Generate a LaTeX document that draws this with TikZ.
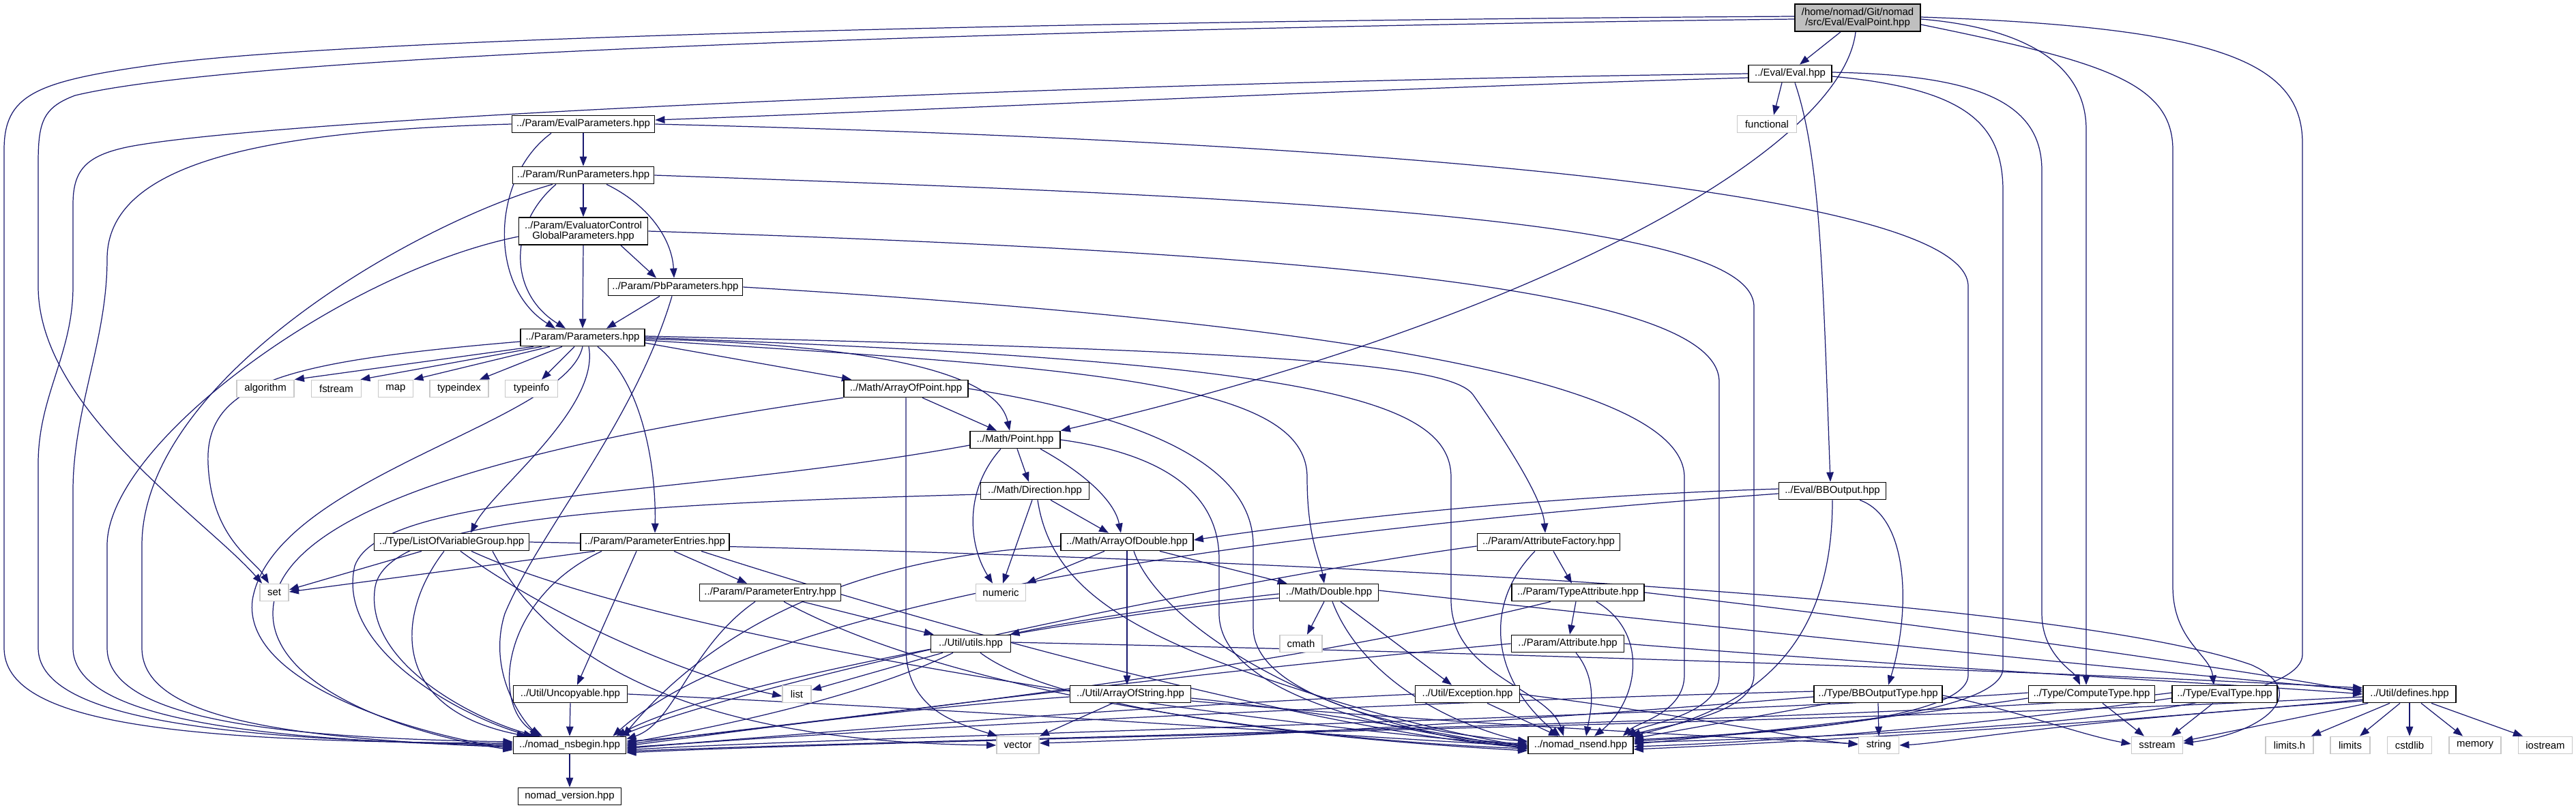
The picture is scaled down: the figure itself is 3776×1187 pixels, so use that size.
\documentclass[tikz,border=0pt]{standalone}
\usepackage{fontspec}
\setmainfont{Liberation Sans}
\usetikzlibrary{arrows.meta,calc}
\pgfdeclarelayer{edgelayer}
\pgfsetlayers{edgelayer,main}
\definecolor{ecol}{RGB}{25,25,112}
\definecolor{gfill}{RGB}{191,191,191}
\definecolor{gline}{RGB}{200,200,200}
\newcommand{\nodefnt}{\fontsize{8.5}{8.5}\selectfont}
\tikzset{
  nbox/.style={draw=black, line width=1pt, fill=white, minimum height=0.5cm, inner sep=0pt, font=\nodefnt, align=center},
  sysbox/.style={nbox, draw=gline},
  edg/.style={draw=ecol, line width=0.7pt, -{Triangle[length=8pt,width=6pt]}}
}
\begin{document}
\begin{tikzpicture}[x=0.02cm,y=-0.02cm]
\useasboundingbox (0,0) rectangle (3776,1187);

% ---------- nodes ----------
\node[nbox, fill=gfill, minimum width=3.68cm, minimum height=0.8cm] (EP) at (2723,26) {/home/nomad/Git/nomad\\/src/Eval/EvalPoint.hpp};
\node[nbox, minimum width=2.44cm] (Ev) at (2624,108) {../Eval/Eval.hpp};
\node[sysbox, minimum width=1.74cm] (fun) at (2590,182) {functional};
\node[nbox, minimum width=4.18cm] (EPar) at (855,182) {../Param/EvalParameters.hpp};
\node[nbox, minimum width=4.14cm] (RPar) at (855,257) {../Param/RunParameters.hpp};
\node[nbox, minimum width=3.78cm, minimum height=0.8cm] (ECG) at (855,339) {../Param/EvaluatorControl\\GlobalParameters.hpp};
\node[nbox, minimum width=3.94cm] (PbP) at (990,421) {../Param/PbParameters.hpp};
\node[nbox, minimum width=3.64cm] (Par) at (854,495) {../Param/Parameters.hpp};
\node[sysbox, minimum width=1.68cm] (alg) at (389,570) {algorithm};
\node[sysbox, minimum width=1.46cm] (fst) at (493,570) {fstream};
\node[sysbox, minimum width=1.02cm] (map) at (580,570) {map};
\node[sysbox, minimum width=1.72cm] (tix) at (673,570) {typeindex};
\node[sysbox, minimum width=1.54cm] (tinf) at (779,570) {typeinfo};
\node[nbox, minimum width=3.64cm] (AoP) at (1328,570) {../Math/ArrayOfPoint.hpp};
\node[nbox, minimum width=2.64cm] (Pt) at (1488,645) {../Math/Point.hpp};
\node[nbox, minimum width=3.18cm] (Dir) at (1517,720) {../Math/Direction.hpp};
\node[nbox, minimum width=3.14cm] (BBO) at (2686,720) {../Eval/BBOutput.hpp};
\node[nbox, minimum width=3.88cm] (AoD) at (1652,795) {../Math/ArrayOfDouble.hpp};
\node[nbox, minimum width=4.54cm] (LVG) at (662,795) {../Type/ListOfVariableGroup.hpp};
\node[nbox, minimum width=4.36cm] (PEs) at (960,795) {../Param/ParameterEntries.hpp};
\node[nbox, minimum width=4.18cm] (AF) at (2270,795) {../Param/AttributeFactory.hpp};
\node[nbox, minimum width=4.14cm] (PE) at (1129,869) {../Param/ParameterEntry.hpp};
\node[sysbox, minimum width=1.46cm] (num) at (1467,869) {numeric};
\node[nbox, minimum width=2.90cm] (Dbl) at (1948,869) {../Math/Double.hpp};
\node[nbox, minimum width=3.88cm] (TA) at (2313,869) {../Param/TypeAttribute.hpp};
\node[sysbox, minimum width=0.84cm] (set) at (402,869) {set};
\node[nbox, minimum width=2.34cm] (uti) at (1423,944) {../Util/utils.hpp};
\node[sysbox, minimum width=1.24cm] (cm) at (1907,944) {cmath};
\node[nbox, minimum width=3.30cm] (Att) at (2298,944) {../Param/Attribute.hpp};
\node[nbox, minimum width=3.34cm] (Unc) at (836,1018) {../Util/Uncopyable.hpp};
\node[sysbox, minimum width=0.84cm] (lst) at (1168,1018) {list};
\node[nbox, minimum width=3.54cm] (AoS) at (1657,1018) {../Util/ArrayOfString.hpp};
\node[nbox, minimum width=3.06cm] (Exc) at (2151,1018) {../Util/Exception.hpp};
\node[nbox, minimum width=3.76cm] (BBT) at (2753,1018) {../Type/BBOutputType.hpp};
\node[nbox, minimum width=3.70cm] (CT) at (3066,1018) {../Type/ComputeType.hpp};
\node[nbox, minimum width=3.08cm] (ET) at (3261,1018) {../Type/EvalType.hpp};
\node[nbox, minimum width=2.72cm] (def) at (3532,1018) {../Util/defines.hpp};
\node[nbox, minimum width=3.30cm] (nsb) at (835,1093) {../nomad\_nsbegin.hpp};
\node[sysbox, minimum width=1.24cm] (vec) at (1492,1093) {vector};
\node[nbox, minimum width=3.08cm] (nse) at (2317,1093) {../nomad\_nsend.hpp};
\node[sysbox, minimum width=1.18cm] (str) at (2754,1093) {string};
\node[sysbox, minimum width=1.50cm] (sst) at (3162,1093) {sstream};
\node[sysbox, minimum width=1.40cm] (lh) at (3356,1093) {limits.h};
\node[sysbox, minimum width=1.16cm] (lim) at (3445,1093) {limits};
\node[sysbox, minimum width=1.30cm] (csl) at (3532,1093) {cstdlib};
\node[sysbox, minimum width=1.52cm] (mem) at (3628,1093) {memory};
\node[sysbox, minimum width=1.58cm] (ios) at (3731,1093) {iostream};
\node[nbox, minimum width=3.02cm] (ver) at (835,1168) {nomad\_version.hpp};

\begin{pgfonlayer}{edgelayer}
\fill[white] (0,0) rectangle (3776,1187);
% ---------- edges ----------
% EvalPoint
\draw[edg] ($(EP.south)+(-25,0)$) -- ($(Ev.north)+(14,0)$);
\draw[edg] ($(EP.south)+(-3,0)$) .. controls (2700,220) and (2250,470) .. (Pt.north east);
\draw[edg] ($(EP.west)+(0,2)$) .. controls (1800,38) and (400,70) .. (110,140) .. controls (62,158) and (56,180) .. (56,240) -- (56,420) .. controls (56,600) and (300,760) .. ($(set.north west)+(4,0)$);
\draw[edg] ($(EP.west)+(0,-2)$) .. controls (1600,30) and (500,55) .. (220,96) .. controls (50,120) and (6,140) .. (6,220) -- (6,950) .. controls (6,1060) and (250,1088) .. ($(nsb.west)+(0,-3)$);
\draw[edg] ($(EP.east)+(0,2)$) .. controls (2960,40) and (3058,90) .. (3058,190) -- ($(CT.north)+(-8,0)$);
\draw[edg] ($(EP.east)+(0,10)$) .. controls (3080,90) and (3185,120) .. (3185,220) -- (3185,860) .. controls (3185,940) and (3240,960) .. ($(ET.north)+(-16,0)$);
\draw[edg] ($(EP.east)+(0,-1)$) .. controls (3250,40) and (3375,90) .. (3375,210) -- (3375,960) .. controls (3375,1060) and (2700,1080) .. ($(nse.east)+(0,-4)$);
% Eval
\draw[edg] ($(Ev.west)+(0,6)$) .. controls (2000,130) and (1400,160) .. ($(EPar.east)+(0,-6)$);
\draw[edg] ($(Ev.south)+(-12,0)$) -- ($(fun.north)+(10,0)$);
\draw[edg] ($(Ev.south)+(7,0)$) .. controls (2668,230) and (2672,400) .. ($(BBO.north)+(-3,0)$);
\draw[edg] (Ev.west) .. controls (1500,122) and (400,175) .. (190,215) .. controls (125,228) and (107,250) .. (107,300) -- (107,420) .. controls (107,520) and (56,580) .. (56,680) -- (56,950) .. controls (56,1050) and (300,1085) .. ($(nsb.west)+(0,-1)$);
\draw[edg] ($(Ev.east)+(0,-2)$) .. controls (2900,110) and (2993,150) .. (2993,250) -- (2993,900) .. controls (2993,960) and (3040,985) .. ($(CT.north)+(-17,0)$);
\draw[edg] ($(Ev.east)+(0,4)$) .. controls (2880,130) and (2936,180) .. (2936,280) -- (2936,980) .. controls (2936,1050) and (2600,1075) .. ($(nse.east)+(0,-8)$);
% EvalParameters
\draw[edg] (EPar.south) -- (RPar.north);
\draw[edg] ($(EPar.south)+(-47,0)$) .. controls (720,260) and (715,420) .. ($(Par.north)+(-40,0)$);
\draw[edg] (EPar.west) .. controls (380,192) and (157,240) .. (157,380) .. controls (157,500) and (107,600) .. (107,720) -- (107,950) .. controls (107,1050) and (350,1085) .. ($(nsb.west)+(0,1)$);
\draw[edg] (EPar.east) .. controls (1900,205) and (2885,270) .. (2885,420) -- (2885,990) .. controls (2885,1055) and (2600,1075) .. ($(nse.east)+(0,-6)$);
% RunParameters
\draw[edg] (RPar.south) -- (ECG.north);
\draw[edg] ($(RPar.south)+(-40,0)$) .. controls (745,330) and (745,430) .. ($(Par.north)+(-25,0)$);
\draw[edg] ($(RPar.south)+(34,0)$) .. controls (950,300) and (985,350) .. ($(PbP.north)+(-2,0)$);
\draw[edg] ($(RPar.south)+(-45,0)$) .. controls (600,330) and (208,560) .. (208,800) -- (208,950) .. controls (208,1050) and (400,1082) .. ($(nsb.west)+(0,3)$);
\draw[edg] (RPar.east) .. controls (1900,290) and (2571,320) .. (2571,450) -- (2571,990) .. controls (2571,1050) and (2430,1065) .. ($(nse.north east)+(-4,0)$);
% EvaluatorControlGlobalParameters
\draw[edg] (ECG.south) -- (Par.north);
\draw[edg] ($(ECG.south)+(55,0)$) -- ($(PbP.north)+(-28,0)$);
\draw[edg] ($(ECG.west)+(0,8)$) .. controls (500,400) and (157,650) .. (157,800) -- (157,950) .. controls (157,1050) and (380,1082) .. ($(nsb.west)+(0,-5)$);
\draw[edg] (ECG.east) .. controls (1900,370) and (2520,420) .. (2520,560) -- (2520,990) .. controls (2520,1050) and (2410,1062) .. ($(nse.north east)+(-10,0)$);
% PbParameters
\draw[edg] ($(PbP.south)+(-23,0)$) -- ($(Par.north)+(35,0)$);
\draw[edg] ($(PbP.south)+(-5,0)$) .. controls (930,620) and (790,780) .. (740,900) .. controls (715,980) and (760,1050) .. ($(nsb.north)+(-45,0)$);
\draw[edg] (PbP.east) .. controls (1900,470) and (2469,550) .. (2469,700) -- (2469,990) .. controls (2469,1045) and (2400,1060) .. ($(nse.north east)+(-16,0)$);
% Parameters
\draw[edg] ($(Par.south)+(-72,0)$) -- (alg.north east);
\draw[edg] ($(Par.south)+(-60,0)$) -- ($(fst.north east)+(-2,0)$);
\draw[edg] ($(Par.south)+(-48,0)$) -- (map.north east);
\draw[edg] ($(Par.south)+(-30,0)$) -- ($(tix.north)+(30,0)$);
\draw[edg] ($(Par.south)+(-12,0)$) -- ($(tinf.north)+(15,0)$);
\draw[edg] ($(Par.west)+(0,6)$) .. controls (420,530) and (300,560) .. (305,680) .. controls (310,790) and (372,820) .. ($(set.north)+(-8,0)$);
\draw[edg] ($(Par.south)+(9,0)$) .. controls (880,600) and (720,720) .. ($(LVG.north)+(28,0)$);
\draw[edg] ($(Par.south)+(22,0)$) .. controls (940,560) and (962,680) .. (PEs.north);
\draw[edg] (Par.south) .. controls (830,620) and (400,700) .. (370,880) .. controls (355,1000) and (600,1075) .. ($(nsb.west)+(0,5)$);
\draw[edg] ($(Par.east)+(0,8)$) -- ($(AoP.north)+(-80,0)$);
\draw[edg] ($(Par.east)+(0,2)$) .. controls (1250,505) and (1460,540) .. ($(Pt.north)+(-8,0)$);
\draw[edg] ($(Par.east)+(0,4)$) .. controls (1600,540) and (1916,560) .. (1916,700) .. controls (1916,790) and (1935,820) .. ($(Dbl.north)+(-7,0)$);
\draw[edg] ($(Par.east)+(0,-2)$) .. controls (1900,515) and (2130,535) .. (2160,580) .. controls (2230,680) and (2262,740) .. ($(AF.north)+(-5,0)$);
\draw[edg] (Par.east) .. controls (1900,530) and (2127,580) .. (2127,700) -- (2127,880) .. controls (2127,990) and (2270,1010) .. ($(nse.north)+(-25,0)$);
% ArrayOfPoint
\draw[edg] ($(AoP.south)+(24,0)$) -- ($(Pt.north)+(-27,0)$);
\draw[edg] (AoP.south) -- (1328,950) .. controls (1328,1040) and (1400,1060) .. ($(vec.north west)+(2,0)$);
\draw[edg] (AoP.south west) .. controls (700,660) and (400,760) .. (400,900) .. controls (400,1010) and (600,1078) .. ($(nsb.west)+(0,7)$);
\draw[edg] (AoP.east) .. controls (1700,615) and (1837,690) .. (1837,800) -- (1837,920) .. controls (1837,1030) and (2100,1078) .. ($(nse.west)+(0,-6)$);
% Point
\draw[edg] ($(Pt.south)+(3,0)$) -- ($(Dir.north)+(-9,0)$);
\draw[edg] ($(Pt.south)+(37,0)$) .. controls (1600,700) and (1635,740) .. ($(AoD.north)+(-9,0)$);
\draw[edg] ($(Pt.south)+(-21,0)$) .. controls (1412,720) and (1420,800) .. ($(num.north)+(-12,0)$);
\draw[edg] ($(Pt.west)+(0,8)$) .. controls (1000,730) and (560,720) .. (520,830) .. controls (490,960) and (700,1060) .. ($(nsb.north west)+(30,0)$);
\draw[edg] (Pt.east) .. controls (1700,665) and (1787,720) .. (1787,820) -- (1787,900) .. controls (1787,1030) and (2100,1085) .. ($(nse.west)+(0,-2)$);
% Direction
\draw[edg] ($(Dir.south)+(23,0)$) -- ($(AoD.north)+(-27,0)$);
\draw[edg] ($(Dir.south)+(-4,0)$) -- ($(num.north)+(3,0)$);
\draw[edg] ($(Dir.west)+(0,5)$) .. controls (900,740) and (570,760) .. (550,860) .. controls (530,980) and (720,1065) .. ($(nsb.north west)+(40,0)$);
\draw[edg] ($(Dir.south)+(4,0)$) .. controls (1540,860) and (1650,930) .. (1900,1010) .. controls (2050,1060) and (2180,1085) .. ($(nse.west)+(0,2)$);
% ArrayOfDouble
\draw[edg] ($(AoD.south)+(-33,0)$) -- (num.north east);
\draw[edg] (AoD.south) -- ($(AoS.north)+(-5,0)$);
\draw[edg] ($(AoD.south)+(48,0)$) -- ($(Dbl.north west)+(12,0)$);
\draw[edg] ($(AoD.west)+(0,6)$) .. controls (1150,820) and (980,1000) .. ($(nsb.north east)+(-5,0)$);
\draw[edg] ($(AoD.south)+(10,0)$) .. controls (1700,920) and (1950,1070) .. ($(nse.west)+(0,4)$);
% ArrayOfString
\draw[edg] ($(AoS.south)+(-26,0)$) -- (vec.north east);
\draw[edg] ($(AoS.west)+(0,4)$) .. controls (1300,1040) and (1050,1080) .. ($(nsb.east)+(0,-6)$);
\draw[edg] ($(AoS.east)+(0,6)$) .. controls (1950,1045) and (2150,1082) .. ($(nse.west)+(0,6)$);
\draw[edg] ($(AoS.east)+(0,10)$) .. controls (2100,1060) and (2550,1082) .. ($(str.west)+(0,-2)$);
% Double
\draw[edg] ($(Dbl.south)+(-7,0)$) -- ($(cm.north)+(9,0)$);
\draw[edg] ($(Dbl.west)+(0,2)$) .. controls (1700,890) and (1550,915) .. ($(uti.north east)+(-2,0)$);
\draw[edg] ($(Dbl.south)+(17,0)$) -- ($(Exc.north)+(-23,0)$);
\draw[edg] ($(Dbl.east)+(0,-3)$) .. controls (2600,930) and (3200,990) .. ($(def.west)+(0,-6)$);
\draw[edg] ($(Dbl.west)+(0,8)$) .. controls (1600,900) and (1050,1000) .. ($(nsb.north east)+(-15,0)$);
\draw[edg] ($(Dbl.south)+(5,0)$) .. controls (1990,980) and (2100,1055) .. ($(nse.west)+(0,-4)$);
% utils
\draw[edg] ($(uti.south)+(-41,0)$) -- ($(lst.east)+(0,-6)$);
\draw[edg] ($(uti.east)+(0,-2)$) .. controls (2300,960) and (3000,985) .. ($(def.west)+(0,-9)$);
\draw[edg] ($(uti.south)+(-26,0)$) .. controls (1250,1030) and (1000,1075) .. ($(nsb.east)+(0,-3)$);
\draw[edg] ($(uti.south)+(14,0)$) .. controls (1560,1050) and (2000,1088) .. ($(nse.west)+(0,8)$);
% ListOfVariableGroup
\draw[edg] ($(LVG.south)+(-44,0)$) -- ($(set.east)+(0,-4)$);
\draw[edg] ($(LVG.south)+(13,0)$) .. controls (800,900) and (1000,990) .. ($(lst.west)+(0,3)$);
\draw[edg] ($(LVG.south)+(-11,0)$) .. controls (580,900) and (570,1040) .. ($(nsb.north west)+(20,0)$);
\draw[edg] ($(LVG.south)+(29,0)$) .. controls (1000,950) and (1900,1070) .. (nse.west);
\draw[edg] (LVG.east) .. controls (1800,815) and (3000,870) .. (3300,975) .. controls (3390,1015) and (3320,1075) .. ($(sst.east)+(0,-3)$);
\draw[edg] ($(LVG.south)+(60,0)$) .. controls (850,1050) and (1200,1090) .. (vec.west);
% ParameterEntries
\draw[edg] ($(PEs.south)+(-88,0)$) -- ($(set.east)+(0,-1)$);
\draw[edg] ($(PEs.south)+(28,0)$) -- ($(PE.north)+(-34,0)$);
\draw[edg] ($(PEs.south)+(-27,0)$) -- ($(Unc.north)+(10,0)$);
\draw[edg] ($(PEs.south)+(-78,0)$) .. controls (730,880) and (720,1040) .. ($(nsb.north)+(-40,0)$);
\draw[edg] ($(PEs.south)+(68,0)$) .. controls (1500,960) and (2000,1080) .. ($(nse.west)+(0,3)$);
% ParameterEntry
\draw[edg] ($(PE.south)+(47,0)$) -- ($(uti.north west)+(5,0)$);
\draw[edg] ($(PE.south)+(-22,0)$) .. controls (1010,950) and (990,1060) .. ($(nsb.east)+(0,-9)$);
\draw[edg] ($(PE.south)+(20,0)$) .. controls (1400,1020) and (1900,1085) .. ($(nse.west)+(0,5)$);
% Uncopyable
\draw[edg] (Unc.south) -- (nsb.north);
\draw[edg] (Unc.east) .. controls (1500,1045) and (2000,1082) .. ($(nse.west)+(0,1)$);
% Exception
\draw[edg] (Exc.west) .. controls (1500,1045) and (1100,1085) .. ($(nsb.east)+(0,3)$);
\draw[edg] ($(Exc.south)+(29,0)$) -- ($(nse.north west)+(45,0)$);
\draw[edg] (Exc.east) .. controls (2450,1045) and (2650,1085) .. ($(str.west)+(0,-1)$);
% AttributeFactory
\draw[edg] ($(AF.south)+(7,0)$) -- ($(TA.north)+(-9,0)$);
\draw[edg] ($(AF.west)+(0,6)$) .. controls (1800,850) and (1100,1000) .. ($(nsb.north east)+(-10,0)$);
\draw[edg] ($(AF.south)+(-20,0)$) .. controls (2170,890) and (2190,1000) .. ($(nse.north)+(-30,0)$);
% TypeAttribute
\draw[edg] ($(TA.south)+(-3,0)$) -- ($(Att.north)+(3,0)$);
\draw[edg] ($(TA.south)+(-40,0)$) .. controls (1800,1000) and (1100,1065) .. ($(nsb.east)+(0,-1)$);
\draw[edg] ($(TA.south)+(27,0)$) .. controls (2420,930) and (2400,1030) .. ($(nse.north)+(20,0)$);
\draw[edg] (TA.east) .. controls (2900,925) and (3300,985) .. ($(def.west)+(0,-3)$);
% Attribute
\draw[edg] (Att.west) .. controls (1700,990) and (1100,1070) .. ($(nsb.east)+(0,1)$);
\draw[edg] ($(Att.south)+(12,0)$) .. controls (2345,1000) and (2330,1050) .. ($(nse.north)+(8,0)$);
\draw[edg] (Att.east) .. controls (2900,985) and (3300,1005) .. (def.west);
% BBOutput
\draw[edg] ($(BBO.west)+(0,-3)$) .. controls (2200,730) and (1900,770) .. ($(AoD.east)+(0,-3)$);
\draw[edg] ($(BBO.west)+(0,4)$) .. controls (1700,790) and (1100,900) .. ($(nsb.north east)+(-20,0)$);
\draw[edg] ($(BBO.south)+(40,0)$) .. controls (2800,760) and (2800,900) .. ($(BBT.north)+(15,0)$);
\draw[edg] (BBO.south) .. controls (2686,900) and (2620,1030) .. ($(nse.north east)+(-6,0)$);
% BBOutputType
\draw[edg] (BBT.south) -- (str.north);
\draw[edg] ($(BBT.west)+(0,-4)$) .. controls (2000,1030) and (1100,1080) .. ($(nsb.east)+(0,5)$);
\draw[edg] ($(BBT.south)+(-70,0)$) -- ($(nse.east)+(0,-10)$);
\draw[edg] ($(BBT.east)+(0,2)$) .. controls (2950,1040) and (3050,1078) .. ($(sst.west)+(0,-2)$);
\draw[edg] ($(BBT.west)+(0,4)$) .. controls (2200,1060) and (1800,1082) .. ($(vec.east)+(0,-3)$);
% ComputeType
\draw[edg] ($(CT.south)+(16,0)$) -- ($(sst.north)+(-19,0)$);
\draw[edg] ($(CT.west)+(0,-2)$) .. controls (2500,1050) and (1200,1082) .. ($(nsb.east)+(0,7)$);
\draw[edg] ($(CT.west)+(0,6)$) .. controls (2800,1050) and (2500,1082) .. ($(nse.east)+(0,-2)$);
% EvalType
\draw[edg] ($(ET.south)+(-17,0)$) -- ($(sst.north)+(21,0)$);
\draw[edg] ($(ET.west)+(0,-2)$) .. controls (2900,1055) and (1300,1085) .. ($(nsb.east)+(0,9)$);
\draw[edg] ($(ET.west)+(0,6)$) .. controls (2900,1065) and (2600,1088) .. ($(nse.east)+(0,2)$);
% defines
\draw[edg] ($(def.south)+(-29,0)$) -- ($(lh.north east)+(-4,0)$);
\draw[edg] ($(def.south)+(-14,0)$) -- ($(lim.north)+(14,0)$);
\draw[edg] (def.south) -- (csl.north);
\draw[edg] ($(def.south)+(17,0)$) -- ($(mem.north)+(-18,0)$);
\draw[edg] ($(def.south)+(32,0)$) -- ($(ios.north)+(-33,0)$);
\draw[edg] ($(def.south west)+(8,0)$) -- ($(sst.east)+(0,-6)$);
\draw[edg] ($(def.west)+(0,4)$) .. controls (2800,1058) and (1300,1085) .. ($(nsb.east)+(0,11)$);
\draw[edg] ($(def.west)+(0,8)$) .. controls (3000,1068) and (2600,1090) .. ($(nse.east)+(0,6)$);
\draw[edg] ($(def.west)+(0,10)$) .. controls (3000,1060) and (2850,1090) .. (str.east);
% nsbegin
\draw[edg] (nsb.south) -- (ver.north);
\end{pgfonlayer}
\end{tikzpicture}
\end{document}
